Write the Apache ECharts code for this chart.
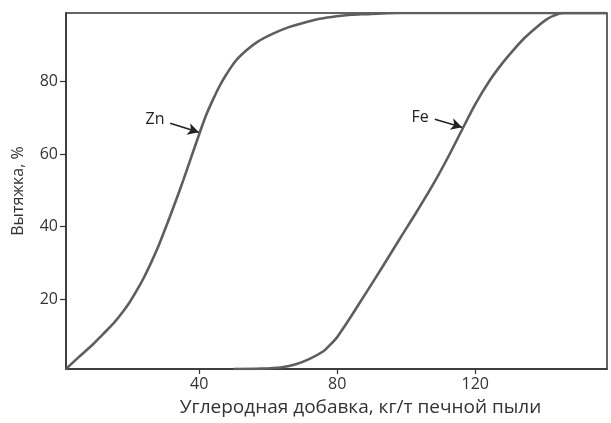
<!DOCTYPE html>
<html>
<head>
<meta charset="utf-8">
<script src="https://cdn.jsdelivr.net/npm/echarts@6/dist/echarts.min.js"></script>
<style>html,body{margin:0;padding:0;background:#fff;}#c{width:611px;height:423px;}</style>
</head>
<body>
<div id="c"></div>
<script>
// Zn curve
var znX = [1.4, 5, 9.3, 12, 15.1, 17.5, 19.9, 22, 23.8, 25.8, 27.7, 29.6, 31.5, 33.5, 35.4, 37.8, 40.2, 42, 44.1, 46, 47.9, 50.5, 53.7, 57, 61.4, 66, 71.1, 75, 79.8, 84, 88.5, 93, 98, 158];
var znY = [0.7, 3.9, 7.6, 10.2, 13.2, 16.0, 19.2, 22.5, 25.6, 29.5, 33.5, 38.0, 42.7, 47.8, 52.8, 59.4, 66.0, 70.7, 75.2, 78.9, 82.0, 85.6, 88.6, 91.0, 93.2, 95.0, 96.4, 97.3, 98.0, 98.4, 98.6, 98.8, 98.9, 98.9];
// Fe curve
var feX = [50, 58, 64, 68, 72, 76, 78, 80, 82, 84, 88.5, 93, 98.2, 103, 107.8, 112, 116.3, 120, 124.3, 128, 131, 134.5, 137.8, 140.5, 142.6, 145.5, 158];
var feY = [0.7, 0.8, 1.2, 2.0, 3.5, 5.6, 7.4, 9.5, 12.3, 15.2, 21.9, 28.7, 36.7, 44.0, 51.6, 58.9, 66.9, 73.7, 80.4, 85.2, 88.6, 92.2, 95.0, 97.0, 98.1, 98.9, 98.9];
// tick labels
var xTicks = [40, 80, 120];
var yTicks = [20, 40, 60, 80];
// annotations: [label, labelX, labelY, arrowFromX, arrowFromY, arrowToX, arrowToY]
var znNote = ['Zn', 27.2, 69.6, 31.6, 68.5, 39.9, 66.0];
var feNote = ['Fe', 104.0, 70.2, 108.3, 69.6, 116.2, 67.4];

function pairs(xs, ys) { return xs.map(function (x, i) { return [x, ys[i]]; }); }

var FONT = 'Open Sans';
var curveColor = '#5e5e5e';

function series(name, xs, ys, note) {
  return {
    name: name,
    type: 'line',
    data: pairs(xs, ys),
    showSymbol: false,
    smooth: 0.3,
    lineStyle: { color: curveColor, width: 2.6 },
    clip: true,
    z: 3,
    markLine: {
      silent: true,
      symbol: ['none', 'arrow'],
      symbolSize: [9, 11],
      lineStyle: { color: '#222', width: 1.5, type: 'solid' },
      label: { show: false },
      data: [[{ coord: [note[3], note[4]] }, { coord: [note[5], note[6]] }]]
    },
    markPoint: {
      silent: true,
      symbol: 'circle',
      symbolSize: 0,
      label: { show: true, position: 'inside', formatter: note[0], color: '#222', fontSize: 16, fontFamily: FONT },
      data: [{ coord: [note[1], note[2]] }]
    }
  };
}

var chart = echarts.init(document.getElementById('c'), null, { renderer: 'canvas' });
chart.setOption({
  animation: false,
  backgroundColor: '#fff',
  grid: { left: 66, right: 4, top: 13, bottom: 54, show: true, borderColor: '#333', borderWidth: 1.5, backgroundColor: 'transparent' },
  xAxis: {
    type: 'value', min: 1.4, max: 158.2,
    name: 'Углеродная добавка, кг/т печной пыли',
    nameLocation: 'middle', nameGap: 29,
    nameTextStyle: { fontFamily: FONT, fontSize: 19, color: '#333', padding: [0, 0, 0, 48] },
    axisLine: { show: true, onZero: false, lineStyle: { color: '#333', width: 1.5 } },
    axisTick: { show: true, customValues: xTicks, length: 5, lineStyle: { color: '#333', width: 1.2 } },
    axisLabel: { customValues: xTicks, fontFamily: FONT, fontSize: 16, color: '#333', margin: 7 },
    splitLine: { show: false }
  },
  yAxis: {
    type: 'value', min: 0.7, max: 98.9,
    name: 'Вытяжка, %',
    nameLocation: 'middle', nameGap: 40, nameRotate: 90,
    nameTextStyle: { fontFamily: FONT, fontSize: 16, color: '#333' },
    axisLine: { show: true, onZero: false, lineStyle: { color: '#333', width: 1.5 } },
    axisTick: { show: true, customValues: yTicks, length: 6, lineStyle: { color: '#333', width: 1.2 } },
    axisLabel: { customValues: yTicks, fontFamily: FONT, fontSize: 16, color: '#333', margin: 8 },
    splitLine: { show: false }
  },
  series: [
    series('Zn', znX, znY, znNote),
    series('Fe', feX, feY, feNote)
  ]
});
</script>
</body>
</html>
